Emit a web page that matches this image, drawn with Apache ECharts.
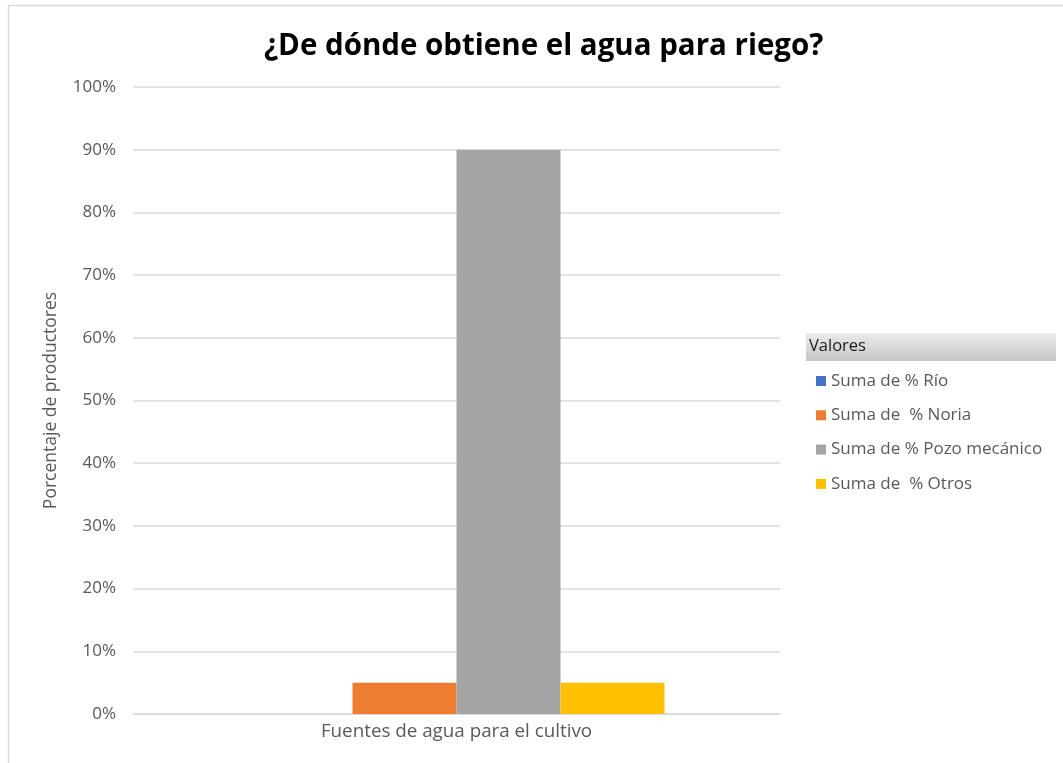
<!DOCTYPE html>
<html>
<head>
<meta charset="utf-8">
<script src="https://cdn.jsdelivr.net/npm/echarts@6/dist/echarts.min.js"></script>
<style>
  html, body { margin: 0; padding: 0; background: #fff; }
  #chart { width: 1063px; height: 763px; }
</style>
</head>
<body>
<div id="chart"></div>
<script>
// Water sources used for irrigation (share of producers, %)
const categories = ['Fuentes de agua para el cultivo'];
const seriesNames = ['Suma de % Río', 'Suma de  % Noria', 'Suma de % Pozo mecánico', 'Suma de  % Otros'];
const seriesValues = [
  [0],   // Río
  [5],   // Noria
  [90],  // Pozo mecánico
  [5]    // Otros
];
const seriesColors = ['#4472C4', '#ED7D31', '#A5A5A5', '#FFC000'];
const yTicks = { min: 0, max: 100, interval: 10 };

const FONT = '"Open Sans", "Noto Sans", sans-serif';
const chart = echarts.init(document.getElementById('chart'), null, { renderer: 'canvas' });

chart.setOption({
  backgroundColor: '#ffffff',
  animation: false,
  title: {
    text: '¿De dónde obtiene el agua para riego?',
    left: 259,
    top: 27,
    textStyle: { fontFamily: FONT, fontSize: 29.5, fontWeight: 'bold', color: '#000000' }
  },
  graphic: [
    {
      // chart frame
      type: 'rect',
      shape: { x: 8.5, y: 5.5, width: 1200, height: 900 },
      style: { fill: 'none', stroke: '#d9d9d9', lineWidth: 1.5 },
      silent: true
    },
    {
      // legend header bar
      type: 'rect',
      shape: { x: 806, y: 333, width: 250, height: 28 },
      style: {
        fill: new echarts.graphic.LinearGradient(0, 0, 0, 1, [
          { offset: 0, color: '#ebebeb' },
          { offset: 1, color: '#c6c6c6' }
        ])
      },
      silent: true
    },
    {
      type: 'text',
      left: 809,
      top: 338,
      style: { text: 'Valores', fontFamily: FONT, fontSize: 16.5, fill: '#1a1a1a' },
      silent: true
    }
  ],
  legend: {
    orient: 'vertical',
    left: 811,
    top: 366,
    icon: 'rect',
    itemWidth: 10,
    itemHeight: 10,
    itemGap: 14.3,
    selectedMode: false,
    textStyle: { fontFamily: FONT, fontSize: 17, color: '#595959', lineHeight: 20 },
    data: seriesNames
  },
  grid: { left: 133, right: 283, top: 87, bottom: 49 },
  xAxis: {
    type: 'category',
    data: categories,
    axisLine: { show: true, lineStyle: { color: '#d9d9d9', width: 1.5 } },
    axisTick: { show: false },
    axisLabel: { fontFamily: FONT, fontSize: 18.8, color: '#595959', margin: 8 }
  },
  yAxis: {
    type: 'value',
    min: yTicks.min,
    max: yTicks.max,
    interval: yTicks.interval,
    name: 'Porcentaje de productores',
    nameLocation: 'middle',
    nameGap: 73,
    nameTextStyle: { fontFamily: FONT, fontSize: 17.5, color: '#595959' },
    axisLine: { show: false },
    axisTick: { show: false },
    axisLabel: { fontFamily: FONT, fontSize: 17, color: '#595959', margin: 17, formatter: '{value}%' },
    splitLine: { lineStyle: { color: '#d9d9d9', width: 1.5 } }
  },
  series: seriesNames.map((name, i) => ({
    name,
    type: 'bar',
    data: seriesValues[i],
    barGap: '0%',
    barCategoryGap: '35.7%',
    itemStyle: { color: seriesColors[i] }
  }))
});
</script>
</body>
</html>
